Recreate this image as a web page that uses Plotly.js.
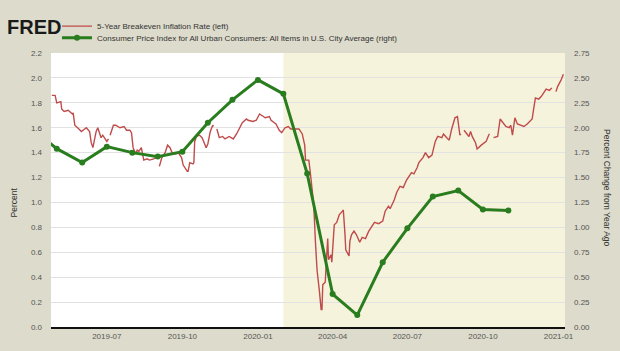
<!DOCTYPE html>
<html>
<head>
<meta charset="utf-8">
<script src="https://cdn.plot.ly/plotly-3.0.1.min.js"></script>
<style>html,body{margin:0;padding:0;background:#dddbcb;}#chart{width:620px;height:351px;}</style>
</head>
<body>
<div id="chart"></div>
<script>
// 5-Year Breakeven Inflation Rate (left axis, percent); null = market holiday gap
const breakevenDates = [
"2019-04-25","2019-04-29","2019-05-01","2019-05-06","2019-05-07","2019-05-10","2019-05-15","2019-05-20","2019-05-21","2019-05-23",
"2019-05-28","2019-05-31","2019-06-04","2019-06-06","2019-06-10","2019-06-12","2019-06-14","2019-06-18","2019-06-20","2019-06-24",
"2019-06-26","2019-07-01","2019-07-03","2019-07-04","2019-07-05","2019-07-09","2019-07-12","2019-07-17","2019-07-22","2019-07-25",
"2019-07-29","2019-07-31","2019-08-02","2019-08-05","2019-08-07","2019-08-09","2019-08-12","2019-08-15","2019-08-19","2019-08-22",
"2019-08-27","2019-08-30","2019-09-02","2019-09-03","2019-09-06","2019-09-10","2019-09-13","2019-09-16","2019-09-19","2019-09-23",
"2019-09-26","2019-09-30","2019-10-02","2019-10-07","2019-10-08","2019-10-10","2019-10-14","2019-10-15","2019-10-16","2019-10-18",
"2019-10-22","2019-10-25","2019-10-30","2019-11-01","2019-11-04","2019-11-07","2019-11-08","2019-11-11","2019-11-12","2019-11-15",
"2019-11-19","2019-11-22","2019-11-27","2019-12-02","2019-12-06","2019-12-10","2019-12-13","2019-12-18","2019-12-20","2019-12-26",
"2019-12-30","2020-01-03","2020-01-07","2020-01-10","2020-01-15","2020-01-17","2020-01-23","2020-01-27","2020-01-30","2020-02-03",
"2020-02-07","2020-02-10","2020-02-14","2020-02-20","2020-02-24","2020-02-27","2020-02-28","2020-03-03","2020-03-05","2020-03-09",
"2020-03-11","2020-03-13","2020-03-16","2020-03-18","2020-03-19","2020-03-20","2020-03-23","2020-03-25","2020-03-26","2020-03-27",
"2020-03-30","2020-03-31","2020-04-02","2020-04-03","2020-04-06","2020-04-09","2020-04-13","2020-04-14","2020-04-16","2020-04-17",
"2020-04-21","2020-04-22","2020-04-24","2020-04-27","2020-04-30","2020-05-04","2020-05-07","2020-05-11","2020-05-15","2020-05-19",
"2020-05-22","2020-05-27","2020-06-01","2020-06-04","2020-06-08","2020-06-10","2020-06-15","2020-06-18","2020-06-22","2020-06-26",
"2020-06-30","2020-07-06","2020-07-09","2020-07-13","2020-07-15","2020-07-20","2020-07-23","2020-07-27","2020-07-31","2020-08-04",
"2020-08-07","2020-08-12","2020-08-14","2020-08-18","2020-08-21","2020-08-24","2020-08-28","2020-08-31","2020-09-03","2020-09-04",
"2020-09-07","2020-09-08","2020-09-14","2020-09-16","2020-09-18","2020-09-22","2020-09-24","2020-09-29","2020-10-05","2020-10-08",
"2020-10-09","2020-10-12","2020-10-14","2020-10-19","2020-10-22","2020-10-26","2020-10-29","2020-11-02","2020-11-04","2020-11-06",
"2020-11-09","2020-11-12","2020-11-16","2020-11-20","2020-11-24","2020-11-30","2020-12-02","2020-12-04","2020-12-08","2020-12-11",
"2020-12-15","2020-12-17","2020-12-21","2020-12-23","2020-12-24","2020-12-25","2020-12-29","2020-12-31","2021-01-04","2021-01-07"
];
const breakevenValues = [
1.86,1.86,1.80,1.81,1.75,1.73,1.74,1.71,1.72,1.62,
1.59,1.57,1.59,1.60,1.57,1.48,1.44,1.57,1.60,1.52,
1.54,1.49,1.51,null,1.54,1.62,1.62,1.60,1.61,1.58,
1.58,1.56,1.44,1.39,1.42,1.41,1.44,1.34,1.35,1.34,
1.35,1.36,null,1.29,1.36,1.40,1.46,1.44,1.39,1.39,
1.40,1.36,1.30,1.25,1.25,1.32,1.31,1.32,1.49,1.53,
1.54,1.52,1.44,1.47,1.57,1.62,1.61,null,1.59,1.52,
1.53,1.51,1.53,1.51,1.55,1.60,1.64,1.67,1.66,1.65,
1.66,1.71,1.69,1.68,1.69,1.66,1.63,1.58,1.56,1.60,
1.61,1.59,1.59,1.59,1.55,1.46,1.34,1.34,1.23,0.98,
0.69,0.46,0.28,0.14,0.14,0.34,0.36,0.57,0.71,0.54,
0.58,0.52,0.75,0.82,0.84,0.90,0.93,0.94,0.75,0.62,
0.57,0.69,0.74,0.77,0.74,0.68,0.72,0.71,0.77,0.81,
0.84,0.83,0.85,0.93,0.97,0.95,1.02,1.08,1.13,1.12,
1.18,1.24,1.23,1.28,1.32,1.36,1.40,1.36,1.38,1.49,
1.53,1.52,1.55,1.52,1.50,1.59,1.68,1.69,1.54,1.55,
null,1.58,1.53,1.57,1.53,1.48,1.43,1.46,1.49,1.54,
1.55,null,1.52,1.53,1.67,1.64,1.61,1.60,1.62,1.54,
1.68,1.63,1.62,1.61,1.63,1.67,1.76,1.84,1.83,1.85,
1.89,1.91,1.90,1.91,1.92,null,1.89,1.93,1.98,2.03
];

// CPI, percent change from year ago (right axis), monthly
const cpiDates = [
"2019-04-01","2019-05-01","2019-06-01","2019-07-01","2019-08-01","2019-09-01","2019-10-01","2019-11-01","2019-12-01","2020-01-01",
"2020-02-01","2020-03-01","2020-04-01","2020-05-01","2020-06-01","2020-07-01","2020-08-01","2020-09-01","2020-10-01","2020-11-01"
];
const cpiValues = [
1.99,1.79,1.65,1.81,1.75,1.71,1.76,2.05,2.28,2.48,
2.34,1.54,0.33,0.12,0.65,0.99,1.31,1.37,1.18,1.17
];

// Axis ticks
const xTickVals = ["2019-07-01","2019-10-01","2020-01-01","2020-04-01","2020-07-01","2020-10-01","2021-01-01"];
const xTickText = ["2019-07","2019-10","2020-01","2020-04","2020-07","2020-10","2021-01"];
const leftTickVals = [0,0.2,0.4,0.6,0.8,1.0,1.2,1.4,1.6,1.8,2.0,2.2];
const leftTickText = ["0.0","0.2","0.4","0.6","0.8","1.0","1.2","1.4","1.6","1.8","2.0","2.2"];
const rightTickVals = [0,0.25,0.5,0.75,1.0,1.25,1.5,1.75,2.0,2.25,2.5,2.75];
const rightTickText = ["0.00","0.25","0.50","0.75","1.00","1.25","1.50","1.75","2.00","2.25","2.50","2.75"];

// Shaded period
const shadeStart = "2020-02-01";
const shadeEnd = "2021-01-09";
const xRange = ["2019-04-24","2021-01-09"];

const FONT = "Liberation Sans, Arial, sans-serif";

const traces = [
  {
    x: breakevenDates, y: breakevenValues, type: "scatter", mode: "lines",
    name: "5-Year Breakeven Inflation Rate (left)",
    line: {color: "#bf4b4b", width: 1.4},
    connectgaps: false, yaxis: "y", legend: "legend"
  },
  {
    x: cpiDates, y: cpiValues, type: "scatter", mode: "lines+markers",
    name: "Consumer Price Index for All Urban Consumers: All Items in U.S. City Average (right)",
    line: {color: "#2a7d1f", width: 3},
    marker: {color: "#2a7d1f", size: 6},
    yaxis: "y2", legend: "legend2"
  }
];

const layout = {
  width: 620, height: 351,
  margin: {l: 51, r: 55, t: 41, b: 24, pad: 0},
  paper_bgcolor: "#dddbcb",
  plot_bgcolor: "#ffffff",
  font: {family: FONT, size: 8, color: "#444"},
  showlegend: true,
  legend: {
    x: 0.0117, xanchor: "left", y: 1.098, yanchor: "middle",
    bgcolor: "rgba(0,0,0,0)", borderwidth: 0,
    font: {family: FONT, size: 8, color: "#333"}
  },
  legend2: {
    x: 0.0117, xanchor: "left", y: 1.056, yanchor: "middle",
    bgcolor: "rgba(0,0,0,0)", borderwidth: 0,
    font: {family: FONT, size: 8, color: "#333"}
  },
  xaxis: {
    type: "date", range: xRange,
    tickvals: xTickVals, ticktext: xTickText,
    showgrid: false, zeroline: false,
    showline: true, linecolor: "#111", linewidth: 2,
    ticks: "", tickfont: {family: FONT, size: 8, color: "#555"},
    fixedrange: true
  },
  yaxis: {
    range: [0, 2.2], tickvals: leftTickVals, ticktext: leftTickText,
    showgrid: true, gridcolor: "#e2e2e2", gridwidth: 1,
    zeroline: false, showline: false, ticks: "",
    ticklabelstandoff: 8,
    tickfont: {family: FONT, size: 8, color: "#555"},
    fixedrange: true
  },
  yaxis2: {
    range: [0, 2.75], tickvals: rightTickVals, ticktext: rightTickText,
    overlaying: "y", side: "right",
    showgrid: false, zeroline: false, showline: false, ticks: "",
    ticklabelstandoff: 8,
    tickfont: {family: FONT, size: 8, color: "#555"},
    fixedrange: true
  },
  shapes: [
    {type: "rect", xref: "x", yref: "paper", x0: shadeStart, x1: shadeEnd, y0: 0, y1: 1,
     fillcolor: "#f5f3dc", line: {width: 0}, layer: "below"}
  ],
  annotations: [
    {text: "<b>FRED</b>", xref: "paper", yref: "paper", x: -0.0895, y: 1.094,
     xanchor: "left", yanchor: "middle", showarrow: false,
     font: {family: FONT, size: 20, color: "#1a1a1a"}},
    {text: "Percent", xref: "paper", yref: "paper", x: -0.072, y: 0.4545,
     xanchor: "center", yanchor: "middle", textangle: -90, showarrow: false,
     font: {family: FONT, size: 8.5, color: "#333"}},
    {text: "Percent Change from Year Ago", xref: "paper", yref: "paper", x: 1.0817, y: 0.507,
     xanchor: "center", yanchor: "middle", textangle: 90, showarrow: false,
     font: {family: FONT, size: 8.5, color: "#333"}}
  ]
};

Plotly.newPlot("chart", traces, layout, {displayModeBar: false, staticPlot: true});
</script>
</body>
</html>
